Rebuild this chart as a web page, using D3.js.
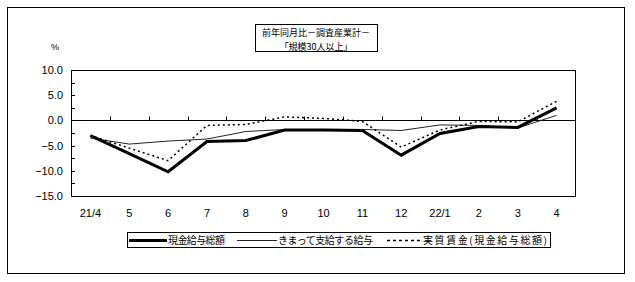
<!DOCTYPE html>
<html>
<head>
<meta charset="utf-8">
<script src="https://cdn.jsdelivr.net/npm/d3@7"></script>
<style>
  body { margin: 0; background: #fff; }
  svg text { font-family: "Liberation Sans", Arial, sans-serif; }
  .jp { font-family: "Noto Sans CJK JP", sans-serif; }
</style>
</head>
<body>
<div class="chart"></div>
<script>
const months = ['21/4', '5', '6', '7', '8', '9', '10', '11', '12', '22/1', '2', '3', '4'];
const totalPay = [-3.0, -6.6, -10.2, -4.2, -4.0, -1.9, -1.9, -2.0, -6.9, -2.6, -1.2, -1.4, 2.5];
const regularPay = [-3.5, -4.7, -4.1, -3.7, -2.2, -1.8, -1.8, -1.8, -2.0, -0.9, -1.0, -1.5, 1.0];
const realWage = [-3.0, -5.5, -8.0, -1.0, -0.8, 0.7, 0.4, -0.2, -5.3, -1.9, -0.2, -0.3, 3.8];
const yTicks = [10, 5, 0, -5, -10, -15];
const titleLines = ['前年同月比－調査産業計－', '「規模30人以上」'];
const legendNames = ['現金給与総額', 'きまって支給する給与', '実質賃金(現金給与総額)'];

const width = 635;
const height = 282;

const svg = d3.select('.chart')
  .append('svg')
  .attr('width', width)
  .attr('height', height);

// outer frame
svg.append('rect')
  .attr('x', 7.5).attr('y', 7.5)
  .attr('width', 617).attr('height', 266)
  .attr('fill', 'none').attr('stroke', '#000').attr('stroke-width', 1);

const xScale = d3.scaleBand()
  .domain(months)
  .range([71, 576]);

const yScale = d3.scaleLinear()
  .domain([-15, 10])
  .range([196, 70]);

const cx = d => xScale(d) + xScale.bandwidth() / 2;

// plot box
svg.append('rect')
  .attr('x', 71.5).attr('y', yScale(10) + 0.5)
  .attr('width', 504).attr('height', yScale(-15) - yScale(10))
  .attr('fill', 'none').attr('stroke', '#000');

// y axis minor ticks every 2.5 (inside)
svg.append('g')
  .selectAll('line')
  .data(d3.range(-15, 10.01, 2.5))
  .enter()
  .append('line')
  .attr('x1', 71.5).attr('x2', 75)
  .attr('y1', d => Math.round(yScale(d)) + 0.5)
  .attr('y2', d => Math.round(yScale(d)) + 0.5)
  .attr('stroke', '#000');

svg.append('g')
  .selectAll('text')
  .data(yTicks)
  .enter()
  .append('text')
  .attr('x', 63)
  .attr('y', d => yScale(d) + 4)
  .attr('text-anchor', 'end')
  .attr('font-size', 11)
  .text(d => d3.format('.1f')(d).replace('-', '\u2212'));

svg.append('text')
  .attr('x', 55).attr('y', 50)
  .attr('text-anchor', 'middle')
  .attr('font-size', 9)
  .text('%');

// zero line
const y0 = Math.round(yScale(0)) + 0.5;
svg.append('line')
  .attr('x1', 71.5).attr('x2', 576)
  .attr('y1', y0).attr('y2', y0)
  .attr('stroke', '#000');

// x ticks at band boundaries (up from zero line)
svg.append('g')
  .selectAll('line')
  .data(months.slice(1))
  .enter()
  .append('line')
  .attr('x1', d => Math.round(xScale(d)) + 0.5)
  .attr('x2', d => Math.round(xScale(d)) + 0.5)
  .attr('y1', y0).attr('y2', y0 - 4)
  .attr('stroke', '#000');

svg.append('g')
  .selectAll('text')
  .data(months)
  .enter()
  .append('text')
  .attr('x', d => cx(d))
  .attr('y', 217)
  .attr('text-anchor', 'middle')
  .attr('font-size', 11)
  .text(d => d);

const line = d3.line()
  .x((d, i) => cx(months[i]))
  .y(d => yScale(d));

svg.append('path')
  .datum(regularPay)
  .attr('d', line)
  .attr('fill', 'none')
  .attr('stroke', '#222')
  .attr('stroke-width', 1);

svg.append('path')
  .datum(realWage)
  .attr('d', line)
  .attr('fill', 'none')
  .attr('stroke', '#000')
  .attr('stroke-width', 1.5)
  .attr('stroke-dasharray', '2,3');

svg.append('path')
  .datum(totalPay)
  .attr('d', line)
  .attr('fill', 'none')
  .attr('stroke', '#000')
  .attr('stroke-width', 3);

// title box
svg.append('rect')
  .attr('x', 255.5).attr('y', 24.5)
  .attr('width', 122).attr('height', 27)
  .attr('fill', '#fff').attr('stroke', '#000');

svg.append('g')
  .selectAll('text')
  .data(titleLines)
  .enter()
  .append('text')
  .attr('class', 'jp')
  .attr('x', 316)
  .attr('y', (d, i) => 36 + i * 13.5)
  .attr('text-anchor', 'middle')
  .attr('font-size', 9)
  .text(d => d);

// legend
svg.append('rect')
  .attr('x', 127.5).attr('y', 232.5)
  .attr('width', 423).attr('height', 15)
  .attr('fill', '#fff').attr('stroke', '#000');

const legendItems = [
  { x1: 129, x2: 167, tx: 168, tw: 57, w: 3, dash: null, color: '#000' },
  { x1: 237, x2: 277, tx: 278, tw: 95, w: 1, dash: null, color: '#222' },
  { x1: 387, x2: 422, tx: 423, tw: 124, w: 1.5, dash: '3,3', color: '#000' }
];

legendItems.forEach((d, i) => {
  svg.append('line')
    .attr('x1', d.x1).attr('x2', d.x2)
    .attr('y1', 240.5).attr('y2', 240.5)
    .attr('stroke', d.color)
    .attr('stroke-width', d.w)
    .attr('stroke-dasharray', d.dash);
  svg.append('text')
    .attr('class', 'jp')
    .attr('x', d.tx).attr('y', 244)
    .attr('font-size', 10)
    .attr('textLength', d.tw)
    .attr('lengthAdjust', 'spacing')
    .text(legendNames[i]);
});
</script>
</body>
</html>
